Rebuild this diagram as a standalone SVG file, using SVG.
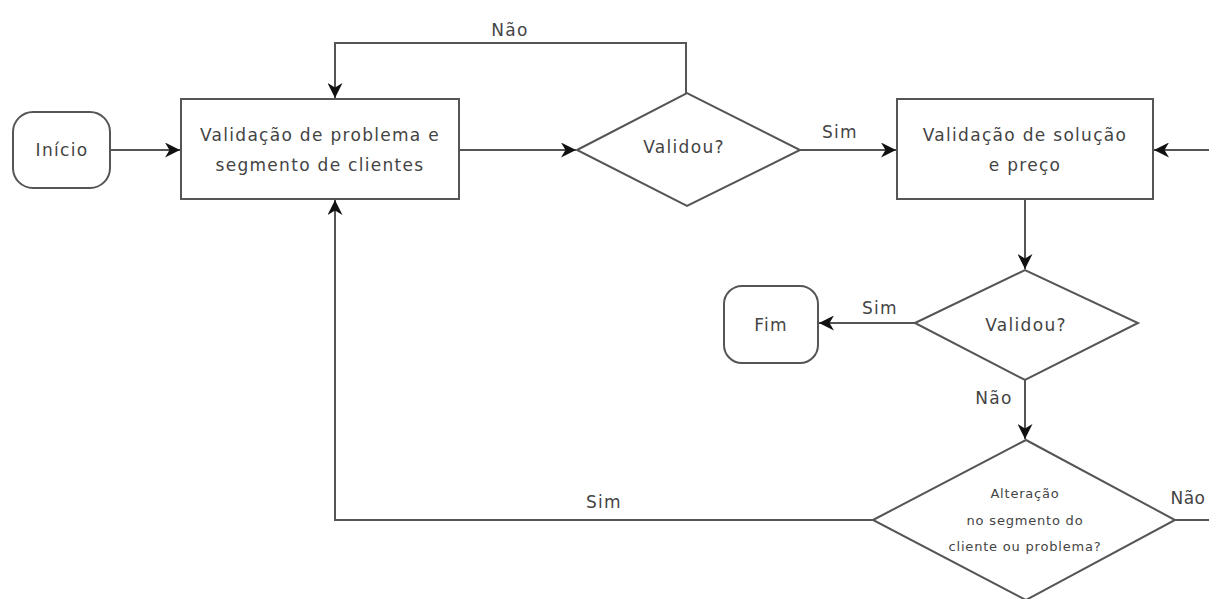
<svg xmlns="http://www.w3.org/2000/svg" width="1209" height="599" viewBox="0 0 1209 599">
<defs>
<marker id="arr" viewBox="0 0 10 10" refX="10" refY="5" markerWidth="15" markerHeight="15" markerUnits="userSpaceOnUse" orient="auto">
<path d="M0,0 L10,5 L0,10 L3,5 z" fill="#111"/>
</marker>
<style>
.s{fill:#fff;stroke:#555;stroke-width:2}
.c{fill:none;stroke:#555;stroke-width:2}
.t{font-family:"DejaVu Sans",sans-serif;font-size:17px;letter-spacing:1.3px;fill:#444;text-anchor:middle;dominant-baseline:central}
.sm{font-size:13px;letter-spacing:0.8px}
</style>
</defs>
<rect width="1209" height="599" fill="#fff"/>
<g id="connectors">
<path class="c" d="M110,150 H180" marker-end="url(#arr)"/>
<path class="c" d="M459,150 H576" marker-end="url(#arr)"/>
<path class="c" d="M686,93 V43 H335 V98" marker-end="url(#arr)"/>
<path class="c" d="M800,150 H896" marker-end="url(#arr)"/>
<path class="c" d="M1209,150 H1154" marker-end="url(#arr)"/>
<path class="c" d="M1025,199 V269" marker-end="url(#arr)"/>
<path class="c" d="M915,323 H819" marker-end="url(#arr)"/>
<path class="c" d="M1025,380 V439" marker-end="url(#arr)"/>
<path class="c" d="M873,520 H335 V200" marker-end="url(#arr)"/>
<path class="c" d="M1175,520 H1209"/>
<text class="t" x="510" y="30">Não</text>
<text class="t" x="840" y="132">Sim</text>
<text class="t" x="880" y="308">Sim</text>
<text class="t" x="994" y="398">Não</text>
<text class="t" x="604" y="502">Sim</text>
<text class="t" x="1188" y="498" style="letter-spacing:0.5px">Não</text>
</g>
<g id="inicio">
<rect class="s" x="13" y="112" width="97" height="76" rx="20"/>
<text class="t" x="62" y="150">Início</text>
</g>
<g id="valid-problema">
<rect class="s" x="181" y="99" width="278" height="100"/>
<text class="t" x="320" y="135">Validação de problema e</text>
<text class="t" x="320" y="165">segmento de clientes</text>
</g>
<g id="validou1">
<polygon class="s" points="577,150 687,93 800,150 687,206"/>
<text class="t" x="684" y="147">Validou?</text>
</g>
<g id="valid-solucao">
<rect class="s" x="897" y="99" width="256" height="100"/>
<text class="t" x="1025" y="135">Validação de solução</text>
<text class="t" x="1025" y="165">e preço</text>
</g>
<g id="validou2">
<polygon class="s" points="915,323 1025,270 1138,323 1025,380"/>
<text class="t" x="1026" y="325">Validou?</text>
</g>
<g id="fim">
<rect class="s" x="724" y="286" width="94" height="77" rx="18"/>
<text class="t" x="771" y="325">Fim</text>
</g>
<g id="alteracao">
<polygon class="s" points="873,520 1026,440 1175,520 1026,600"/>
<text class="t sm" x="1025" y="493">Alteração</text>
<text class="t sm" x="1025" y="520">no segmento do</text>
<text class="t sm" x="1025" y="546">cliente ou problema?</text>
</g>
</svg>
